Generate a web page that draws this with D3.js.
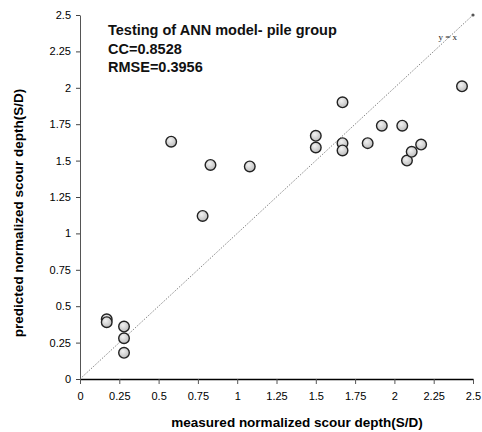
<!DOCTYPE html>
<html lang="en">
<head>
  <meta charset="UTF-8">
  <title>Testing of ANN model - pile group</title>
  <style>
    body { margin: 0; background: #fff; }
    svg { display: block; font-family: "Liberation Sans", Arial, sans-serif; }
  </style>
</head>
<body>
  <div id="chart"></div>
  <script src="https://d3js.org/d3.v7.min.js"></script>
  <script>

    // measured vs predicted S/D
    const measured  = [0.17, 0.17, 0.28, 0.28, 0.28, 0.58, 0.78, 0.83, 1.08, 1.50, 1.50,
                       1.67, 1.67, 1.67, 1.83, 1.92, 2.05, 2.08, 2.11, 2.17, 2.43];
    const predicted = [0.41, 0.39, 0.36, 0.28, 0.18, 1.63, 1.12, 1.47, 1.46, 1.67, 1.59,
                       1.90, 1.62, 1.57, 1.62, 1.74, 1.74, 1.50, 1.56, 1.61, 2.01];
    const ticks = [0, 0.25, 0.5, 0.75, 1, 1.25, 1.5, 1.75, 2, 2.25, 2.5];
    const statLines = ["Testing of ANN model- pile group", "CC=0.8528", "RMSE=0.3956"];

    const width = 482,
          height = 432,
          margin = {top: 15, right: 9, bottom: 53, left: 80};

    const svg = d3.select("#chart")
      .append("svg")
      .attr("width", width)
      .attr("height", height);

    const x = d3.scaleLinear([0, 2.5], [margin.left, width - margin.right]);
    const y = d3.scaleLinear([0, 2.5], [height - margin.bottom, margin.top]);

    const fmt = d => String(d);

    // x axis
    const gx = svg.append("g")
      .attr("transform", `translate(0,${y(0)})`)
      .call(d3.axisBottom(x).tickValues(ticks).tickFormat(fmt).tickSize(5).tickSizeOuter(0));
    gx.select(".domain").attr("stroke", "#000").attr("stroke-width", 1.3);
    gx.selectAll(".tick line").attr("stroke", "#555");
    gx.selectAll("text").attr("font-size", 11).attr("fill", "#000").attr("dy", "1.2em");

    // y axis
    const gy = svg.append("g")
      .attr("transform", `translate(${x(0)},0)`)
      .call(d3.axisLeft(y).tickValues(ticks).tickFormat(fmt).tickSize(4).tickSizeOuter(0));
    gy.select(".domain").attr("stroke", "#555");
    gy.selectAll(".tick line").attr("stroke", "#444");
    gy.selectAll("text").attr("font-size", 11).attr("fill", "#000").attr("x", -9);

    // y = x reference line
    svg.append("line")
      .attr("x1", x(0)).attr("y1", y(0))
      .attr("x2", x(2.5)).attr("y2", y(2.5))
      .attr("stroke", "#666")
      .attr("stroke-width", 0.8)
      .attr("stroke-dasharray", "1.5,1.5");

    svg.append("circle")
      .attr("cx", x(2.5)).attr("cy", y(2.5))
      .attr("r", 1.6)
      .attr("fill", "#555");

    svg.append("text")
      .attr("x", x(2.28))
      .attr("y", y(2.33))
      .attr("font-size", 9)
      .attr("font-family", "Liberation Serif, serif")
      .attr("fill", "#222")
      .text("y = x");

    // point fill
    const grad = svg.append("defs").append("radialGradient")
      .attr("id", "pt")
      .attr("cx", "40%").attr("cy", "35%").attr("r", "65%");
    grad.append("stop").attr("offset", "0%").attr("stop-color", "#f2f2f2");
    grad.append("stop").attr("offset", "100%").attr("stop-color", "#bdbdbd");

    svg.append("g")
      .selectAll("circle")
      .data(measured)
      .join("circle")
      .attr("cx", d => x(d))
      .attr("cy", (d, i) => y(predicted[i]))
      .attr("r", 5.3)
      .attr("fill", "url(#pt)")
      .attr("stroke", "#222")
      .attr("stroke-width", 1.4);

    // stats box
    svg.append("g")
      .selectAll("text")
      .data(statLines)
      .join("text")
      .attr("x", 108)
      .attr("y", (d, i) => 35 + i * 18.5)
      .attr("font-size", 14.5)
      .attr("font-weight", "bold")
      .attr("fill", "#111")
      .text(d => d);

    // axis titles
    svg.append("text")
      .attr("x", 297)
      .attr("y", 427)
      .attr("text-anchor", "middle")
      .attr("font-size", 13.5)
      .attr("font-weight", "bold")
      .text("measured normalized scour depth(S/D)");

    svg.append("text")
      .attr("transform", `translate(23,213) rotate(-90)`)
      .attr("text-anchor", "middle")
      .attr("font-size", 13.5)
      .attr("font-weight", "bold")
      .text("predicted normalized scour depth(S/D)");

  </script>
</body>
</html>
